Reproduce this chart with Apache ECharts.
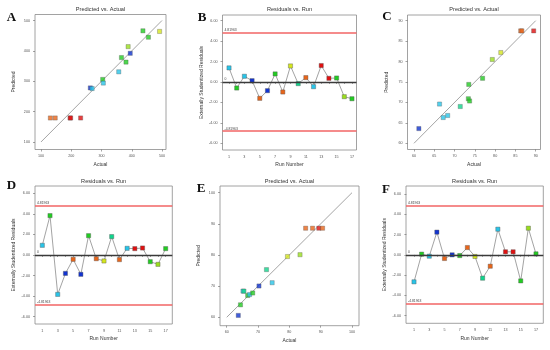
<!DOCTYPE html>
<html><head><meta charset="utf-8">
<script src="https://cdn.jsdelivr.net/npm/echarts@6/dist/echarts.min.js"></script>
<style>html,body{margin:0;padding:0;background:#fff}#c{width:550px;height:350px}</style>
</head><body><div id="c"></div>
<script>
// ---------- DATA ----------
const runs = [1,2,3,4,5,6,7,8,9,10,11,12,13,14,15,16,17];
const runLabels = [1,3,5,7,9,11,13,15,17];
const residTicks = [-6,-4,-2,0,2,4,6];
const limitB = 4.81963, limitD = 4.81963, limitF = 4.81963;

const residB = [1.38,-0.59,0.56,0.13,-1.60,-0.85,0.79,-0.98,1.57,-0.16,0.43,-0.46,1.61,0.36,0.39,-1.44,-1.64];
const residD = [0.94,3.83,-3.83,-1.79,-0.42,-1.88,1.88,-0.36,-0.58,1.79,-0.45,0.65,0.62,0.68,-0.65,-0.91,0.62];
const residF = [-2.66,0.07,-0.13,2.24,-0.36,0.00,-0.07,0.72,-0.16,-2.30,-1.12,2.53,0.30,0.30,-2.57,2.63,0.10];

const ticksA = [100,200,300,400,500];
const actualA    = [131,147,196,198,231,263,269,304,306,357,366,381,388,395,437,455,492];
const predictedA = [179,179,179,179,179,278,276,306,294,331,378,363,414,392,466,445,464];

const ticksC = [60,65,70,75,80,85,90];
const actualC    = [61.2,66.3,67.2,68.3,71.4,73.5,73.4,73.7,76.9,79.3,81.4,86.3,86.6,89.5];
const predictedC = [63.6,69.6,66.3,66.8,69.0,74.4,70.9,70.35,75.9,80.5,82.2,87.5,87.5,87.5];

const ticksE = [60,70,80,90,100];
const actualE    = [63.7,64.4,65.2,65.5,66.7,67.3,68.3,70.3,72.7,74.5,79.4,83.4,85.2,87.4,89.4,90.6];
const predictedE = [60.6,64.0,68.4,68.4,67.0,67.3,67.8,70.05,75.3,71.1,79.5,80.1,88.6,88.6,88.6,88.6];

// ---------- STYLES ----------
const C = {r:'#e01010',o:'#e8651a',y:'#d4e61e',yg:'#9ade1e',g:'#22cc22',t:'#10d48c',c:'#28c4e8',b:'#1234d0'};
const runColors = ['c','g','c','b','o','b','g','o','y','t','o','c','r','r','g','yg','g'];
const colorsA = ['o','o','r','r','r','b','c','g','c','c','g','g','yg','b','g','g','y'];
const colorsC = ['b','c','c','c','t','g','g','g','g','yg','y','o','o','r'];
const colorsE = ['b','g','c','t','g','c','g','b','t','c','y','yg','o','o','r','o'];

const FONT = 'Liberation Sans';
const TXT = '#333';

const panels = [
  {type:'pa', L:'A', title:'Predicted vs. Actual', g:{left:35,top:14.5,width:131,height:135}, x:[80.2,513.2], y:[75.2,519.8], ticks:ticksA, ax:actualA, pr:predictedA, col:colorsA, diag:[100,500], tY:9.3, lx:11.5, ly:18, yName:'Predicted', xName:'Actual'},
  {type:'res', L:'B', title:'Residuals vs. Run', g:{left:222.5,top:15,width:134,height:135}, x:[0.15,17.59], y:[-6.66,6.56], r:residB, lim:limitB, tY:9.3, lx:202, ly:18},
  {type:'pa', L:'C', title:'Predicted vs. Actual', g:{left:407.5,top:15,width:133,height:134.5}, x:[58.4,91.18], y:[58.48,91.39], ticks:ticksC, ax:actualC, pr:predictedC, col:colorsC, diag:[60,90], tY:9.3, lx:387, ly:17, yName:'Predicted', xName:'Actual'},
  {type:'res', L:'D', title:'Residuals vs. Run', g:{left:35,top:186,width:137.3,height:138}, x:[0.053,17.86], y:[-6.71,6.71], r:residD, lim:limitD, tY:181.7, lx:11.5, ly:186},
  {type:'pa', L:'E', title:'Predicted vs. Actual', g:{left:220,top:186,width:139,height:139.7}, x:[57.86,102.23], y:[57.3,102.15], ticks:ticksE, ax:actualE, pr:predictedE, col:colorsE, diag:[60,100], tY:181, lx:201, ly:189, yName:'Predicted', xName:'Actual'},
  {type:'res', L:'F', title:'Residuals vs. Run', g:{left:406,top:186,width:137.3,height:137.3}, x:[-0.05,17.96], y:[-6.75,6.79], r:residF, lim:limitF, tY:181, lx:386, ly:190}
];

function refLine(i, val, color, width, text){
  return {type:'line', xAxisIndex:i, yAxisIndex:i, z:2, data:[], silent:true,
    markLine:{silent:true, symbol:'none', animation:false,
      lineStyle:{color:color, width:width, type:'solid', opacity:1},
      label:{show:true, position:'insideStartTop', formatter:text, fontFamily:FONT, fontSize:3.4, color:'#444', distance:[2,1]},
      emphasis:{disabled:true},
      data:[{yAxis:val}]}};
}

const grid=[], xAxis=[], yAxis=[], series=[], graphic=[];
panels.forEach((p,i)=>{
  grid.push(Object.assign({show:true, borderColor:'#8a8a8a', borderWidth:0.8, backgroundColor:'#fff', containLabel:false}, p.g));
  const isRes = p.type==='res';
  const xt = isRes ? runs : p.ticks;
  const xl = isRes ? runLabels : p.ticks;
  const yt = isRes ? residTicks : p.ticks;
  xAxis.push({type:'value', gridIndex:i, min:p.x[0], max:p.x[1],
    name: isRes ? 'Run Number' : p.xName, nameLocation:'middle', nameGap:12.5,
    nameTextStyle:{fontFamily:FONT, fontSize:5, color:TXT},
    axisLine:{show:false}, splitLine:{show:false},
    axisTick:{show:true, length:2, customValues:xt, lineStyle:{color:'#666', width:0.6}},
    axisLabel:{show:true, customValues:xl, fontFamily:FONT, fontSize:3.7, color:'#555', margin:4.5}
  });
  yAxis.push({type:'value', gridIndex:i, min:p.y[0], max:p.y[1],
    name: isRes ? 'Externally Studentized Residuals' : p.yName, nameLocation:'middle', nameGap:18.5,
    nameTextStyle:{fontFamily:FONT, fontSize:5, color:TXT},
    axisLine:{show:false}, splitLine:{show:false},
    axisTick:{show:true, length:2, customValues:yt, lineStyle:{color:'#666', width:0.6}},
    axisLabel:{show:true, customValues:yt, fontFamily:FONT, fontSize:3.7, color:'#555', margin:5,
      formatter: isRes ? (v)=>Number(v).toFixed(2) : (v)=>String(v)}
  });
  if(isRes){
    series.push(refLine(i, p.lim, '#f26464', 1.6, String(p.lim)));
    series.push(refLine(i, -p.lim, '#f26464', 1.6, String(-p.lim)));
    series.push(refLine(i, 0, '#3a3a3a', 1.3, '0'));
    series.push({type:'line', xAxisIndex:i, yAxisIndex:i, z:3,
      data: runs.map((r,k)=>({value:[r,p.r[k]], itemStyle:{color:C[runColors[k]]}})),
      symbol:'rect', symbolSize:4.2, showSymbol:true,
      itemStyle:{borderColor:'#555', borderWidth:0.4},
      lineStyle:{color:'#8c8c8c', width:0.8}
    });
  } else {
    series.push({type:'line', xAxisIndex:i, yAxisIndex:i, z:2, symbol:'none',
      data:[[p.diag[0],p.diag[0]],[p.diag[1],p.diag[1]]],
      lineStyle:{color:'#9a9a9a', width:0.9}});
    series.push({type:'scatter', xAxisIndex:i, yAxisIndex:i, z:3,
      symbol:'rect', symbolSize:4.2,
      data: p.ax.map((a,k)=>({value:[a,p.pr[k]], itemStyle:{color:C[p.col[k]]}})),
      itemStyle:{borderColor:'#555', borderWidth:0.4}});
  }
  graphic.push({type:'text', x:p.g.left + p.g.width/2, y:p.tY,
    style:{text:p.title, font:'5.6px "Liberation Sans"', fill:TXT, textAlign:'center', textVerticalAlign:'middle'}});
  graphic.push({type:'text', x:p.lx, y:p.ly,
    style:{text:p.L, font:'bold 13px "Liberation Serif"', fill:'#111', textAlign:'center', textVerticalAlign:'middle'}});
});

const chart = echarts.init(document.getElementById('c'), null, {renderer:'canvas'});
chart.setOption({animation:false, backgroundColor:'#fff', grid, xAxis, yAxis, series, graphic});
</script></body></html>
